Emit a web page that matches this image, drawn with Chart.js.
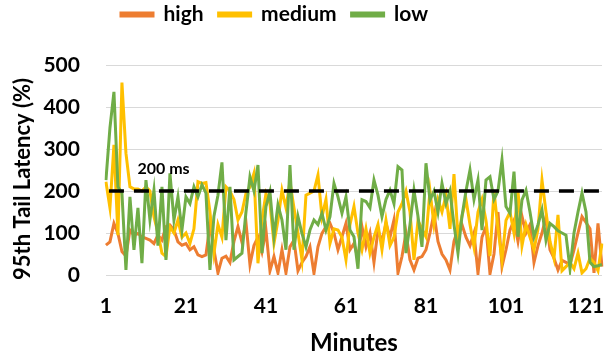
<!DOCTYPE html>
<html>
<head>
<meta charset="utf-8">
<script src="https://cdn.jsdelivr.net/npm/chart.js@4"></script>
<style>
  body { margin: 0; background: #fff; }
  #wrap { width: 608px; height: 355px; }
</style>
</head>
<body>
<div id="wrap"><canvas id="latencyChart" width="608" height="355"></canvas></div>
<script>
// minutes 1..125 on the x axis, only every 20th one is labelled
const minutes = Array.from({ length: 125 }, (_, i) => i + 1);
const shownTicks = [1, 21, 41, 61, 81, 101, 121];

const highLatency = [
  71, 79, 123, 99, 56, 45, 107, 95, 99, 91,
  87, 83, 75, 95, 83, 115, 119, 107, 79, 71,
  75, 60, 67, 48, 44, 48, 120, 60, 5, 40,
  45, 30, 80, 115, 78, 125, 25, 70, 90, 55,
  107, 10, 44, 5, 60, 5, 67, 83, 10, 30,
  44, 67, 4, 67, 99, 115, 123, 100, 60, 91,
  123, 60, 75, 40, 115, 67, 100, 30, 107, 80,
  123, 90, 131, 5, 44, 100, 36, 12, 40, 44,
  60, 100, 147, 80, 50, 36, 12, 80, 110, 120,
  90, 70, 100, 4, 90, 115, 3, 50, 150, 20,
  60, 107, 130, 80, 140, 100, 120, 30, 70, 100,
  139, 60, 40, 12, 35, 30, 25, 60, 100, 139,
  125, 110, 5, 123, 20
];

const mediumLatency = [
  222, 160, 310, 95, 458, 290, 210, 205, 205, 200,
  210, 200, 139, 100, 52, 44, 115, 100, 131, 90,
  100, 75, 110, 222, 218, 220, 150, 52, 120, 90,
  210, 200, 180, 131, 150, 194, 210, 242, 28, 131,
  194, 170, 75, 130, 202, 160, 222, 160, 100, 36,
  190, 195, 200, 238, 139, 180, 75, 110, 107, 90,
  36, 120, 163, 100, 60, 110, 52, 90, 120, 60,
  130, 70, 90, 150, 170, 200, 150, 36, 130, 110,
  91, 200, 120, 180, 150, 190, 110, 240, 90, 140,
  180, 120, 67, 150, 180, 130, 45, 200, 110, 36,
  130, 150, 100, 202, 70, 120, 90, 60, 110, 226,
  150, 80, 40, 143, 10, 20, 30, 15, 52, 5,
  15, 40, 30, 10, 75
];

const lowLatency = [
  226, 350, 436, 210, 195, 12, 186, 60, 160, 28,
  226, 131, 202, 70, 210, 36, 242, 131, 186, 107,
  186, 170, 210, 186, 215, 195, 12, 140, 190, 268,
  83, 210, 36, 44, 52, 150, 234, 200, 262, 52,
  163, 198, 91, 167, 131, 60, 262, 60, 139, 99,
  67, 107, 131, 120, 147, 107, 139, 218, 186, 147,
  186, 107, 91, 15, 179, 175, 160, 226, 190, 139,
  180, 202, 170, 258, 250, 52, 120, 202, 140, 67,
  266, 178, 200, 150, 218, 170, 200, 120, 52, 140,
  200, 250, 180, 226, 107, 226, 234, 180, 200, 274,
  163, 147, 246, 91, 179, 202, 150, 91, 120, 155,
  83, 123, 115, 105, 100, 95, 15, 100, 150, 195,
  150, 30, 20, 22, 25
];

const thresholdValue = 200;
const thresholdLabel = '200 ms';
const thresholdLabelAt = 15.4; // minute where the label is centred
const yTitle = '95th Tail Latency (%)';

const fontFamily = 'Lato, "Open Sans", sans-serif';
const boldFont = (size) => ({ family: fontFamily, size: size, weight: 'bold' });

// dashed 200 ms line + its label, drawn over the series
const thresholdLine = {
  id: 'thresholdLine',
  afterDatasetsDraw(chart) {
    const { ctx, chartArea, scales } = chart;
    const y = scales.y.getPixelForValue(thresholdValue);
    ctx.save();
    ctx.strokeStyle = '#000';
    ctx.lineWidth = 3.5;
    ctx.setLineDash([15, 10]);
    ctx.lineDashOffset = -3;
    ctx.beginPath();
    ctx.moveTo(chartArea.left, y);
    ctx.lineTo(chartArea.right + 3, y);
    ctx.stroke();
    ctx.setLineDash([]);
    ctx.fillStyle = '#000';
    ctx.font = 'bold 16px ' + fontFamily;
    ctx.textAlign = 'center';
    ctx.textBaseline = 'bottom';
    ctx.fillText(thresholdLabel, scales.x.getPixelForValue(thresholdLabelAt - 1), y - 14);
    ctx.restore();
  }
};

// y title sits a little lower than the plot centre in the original
const yTitleDraw = {
  id: 'yTitleDraw',
  afterDraw(chart) {
    const { ctx, chartArea, scales } = chart;
    ctx.save();
    ctx.translate(scales.y.left + 4 + 13, (chartArea.top + chartArea.bottom) / 2 + 9);
    ctx.rotate(-Math.PI / 2);
    ctx.fillStyle = '#000';
    ctx.font = 'bold 22px ' + fontFamily;
    ctx.textAlign = 'center';
    ctx.textBaseline = 'middle';
    ctx.fillText(yTitle, 0, 0);
    ctx.restore();
  }
};

// legend sits left of centre like in excel, and leaves room above the plot
const legendPlacement = {
  id: 'legendPlacement',
  beforeInit(chart) {
    const fit = chart.legend.fit;
    chart.legend.fit = function () {
      fit.call(this);
      this.height = 65;
    };
  },
  afterLayout(chart) {
    chart.legend.left = 106;
    chart.legend.top = -11;
  }
};

const ctx = document.getElementById('latencyChart').getContext('2d');
const latencyChart = new Chart(ctx, {
  type: 'line',
  data: {
    labels: minutes,
    datasets: [
      { label: 'high', data: highLatency, borderColor: '#ED7D31', backgroundColor: '#ED7D31', order: 3 },
      { label: 'medium', data: mediumLatency, borderColor: '#FFC000', backgroundColor: '#FFC000', order: 2 },
      { label: 'low', data: lowLatency, borderColor: '#70AD47', backgroundColor: '#70AD47', order: 1 }
    ]
  },
  options: {
    responsive: false,
    animation: false,
    layout: { padding: { left: 6, right: 6, top: 0, bottom: 0 } },
    elements: {
      point: { radius: 0 },
      line: { borderWidth: 3, tension: 0 }
    },
    plugins: {
      tooltip: { enabled: false },
      legend: {
        position: 'top',
        align: 'start',
        labels: {
          color: '#000',
          font: boldFont(21),
          boxWidth: 32,
          boxHeight: 3,
          padding: 15,
          sort: (a, b) => a.datasetIndex - b.datasetIndex
        }
      }
    },
    scales: {
      x: {
        offset: false,
        grid: { display: true, drawOnChartArea: false, drawTicks: true, tickLength: 17, tickColor: 'rgba(0,0,0,0)' },
        border: { display: false },
        ticks: {
          autoSkip: false,
          maxRotation: 0,
          color: '#000',
          font: boldFont(21),
          padding: 2,
          callback: (value, index) => shownTicks.includes(minutes[index]) ? String(minutes[index]) : ''
        },
        title: {
          display: true,
          text: 'Minutes',
          color: '#000',
          font: boldFont(24),
          padding: { top: 8, bottom: -3 }
        }
      },
      y: {
        min: 0,
        max: 500,
        grid: { color: '#D9D9D9', lineWidth: 1, drawTicks: true, tickLength: 24, tickColor: 'rgba(0,0,0,0)' },
        border: { display: false },
        ticks: {
          stepSize: 100,
          color: '#000',
          font: boldFont(21),
          padding: 2
        },
        title: {
          // space is kept here, the text itself is drawn by yTitleDraw
          display: true,
          text: yTitle,
          color: 'rgba(0,0,0,0)',
          font: boldFont(22),
          padding: { top: 4, bottom: 5 }
        }
      }
    }
  },
  plugins: [thresholdLine, yTitleDraw, legendPlacement]
});
</script>
</body>
</html>
